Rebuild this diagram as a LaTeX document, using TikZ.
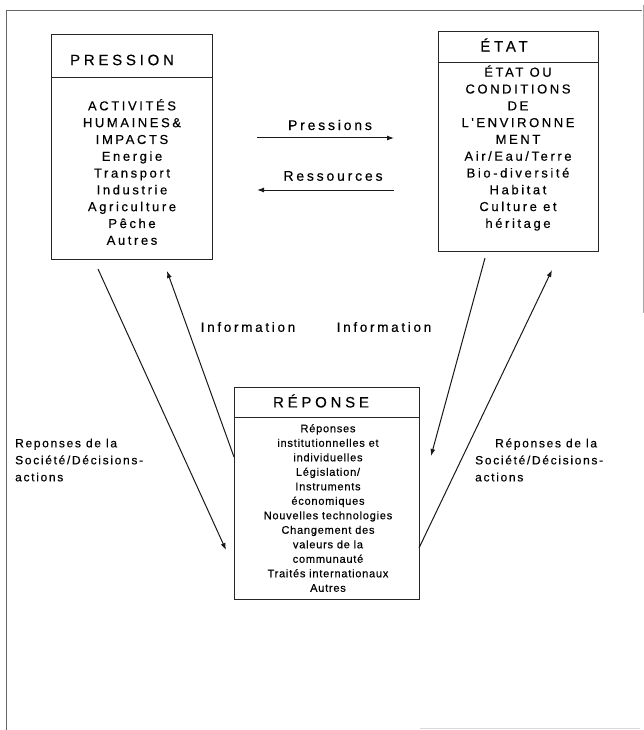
\documentclass[tikz,border=0pt]{standalone}
\usepackage{fontspec}
\setmainfont{Liberation Sans}
\newfontfamily\titlef{Liberation Sans}[LetterSpace=25,FakeBold=0.4]
\newfontfamily\bodyf{Liberation Sans}[LetterSpace=20,FakeBold=0.4]
\newfontfamily\repf{Liberation Sans}[LetterSpace=7,FakeBold=0.4]
\newfontfamily\labf{Liberation Sans}[LetterSpace=20,FakeBold=0.4]
\newfontfamily\sidef{Liberation Sans}[LetterSpace=14,FakeBold=0.4]
\usetikzlibrary{arrows.meta}
\tikzset{
  pagebord/.style={line width=0.8pt, draw=black!60},
  boxframe/.style={draw=black!85, line width=1.1pt, inner sep=0pt, anchor=north west},
  titletext/.style={font=\titlef\fontsize{15}{18}\selectfont, inner sep=0pt},
  bodytext/.style={font=\bodyf\fontsize{13}{16.8}\selectfont, align=center, inner sep=0pt},
  reptext/.style={font=\repf\fontsize{11}{14.5}\selectfont, align=center, inner sep=0pt},
  labtext/.style={font=\labf\fontsize{14}{17}\selectfont, inner sep=0pt},
  infotext/.style={font=\labf\fontsize{13.5}{17}\selectfont, inner sep=0pt},
  sidetext/.style={font=\sidef\fontsize{12}{17}\selectfont, align=left, inner sep=0pt, anchor=west},
  arr/.style={line width=1pt, draw=black!90, -{Latex[length=7pt,width=5pt]}}
}
\begin{document}
\begin{tikzpicture}[x=1pt,y=-1pt]
\useasboundingbox (0,0) rectangle (644,730);
% page border
\coordinate (b1) at (6,10);
\coordinate (b2) at (642,10);
\coordinate (b3) at (6,730);
\coordinate (b4) at (643,5);
\coordinate (b5) at (643,313);
\coordinate (b6) at (420,728);
\coordinate (b7) at (640,728);
\draw[pagebord] (b3) -- (b1) -- (b2);
\draw[pagebord, draw=black!35] (b4) -- (b5);
\draw[line width=0.6pt, draw=black!15] (b6) -- (b7);

% PRESSION box
\node[boxframe, minimum width=161pt, minimum height=43pt] (ptitle) at (51,34) {};
\node[boxframe, minimum width=161pt, minimum height=182pt] (pbody) at (51,77) {};
\node[titletext] (ptitletxt) at (122,60) {PRESSION};
\node[bodytext] (ptext) at (132,172) {ACTIVITÉS\\HUMAINES\&\\IMPACTS\\Energie\\Transport\\Industrie\\Agriculture\\Pêche\\Autres};

% ETAT box
\node[boxframe, minimum width=160pt, minimum height=31pt] (etitle) at (438,31) {};
\node[boxframe, minimum width=160pt, minimum height=189pt] (ebody) at (438,62) {};
\node[titletext] (etitletxt) at (504,45) {ÉTAT};
\node[bodytext] (etext) at (518,148) {ÉTAT OU\\CONDITIONS\\DE\\L'ENVIRONNE\\MENT\\Air/Eau/Terre\\Bio-diversité\\Habitat\\Culture et\\héritage};

% REPONSE box
\node[boxframe, minimum width=185pt, minimum height=30pt] (rtitle) at (234,387) {};
\node[boxframe, minimum width=185pt, minimum height=182pt] (rbody) at (234,417) {};
\node[titletext] (rtitletxt) at (321,401) {RÉPONSE};
\node[reptext] (rtext) at (328,508) {Réponses\\institutionnelles et\\individuelles\\Législation/\\Instruments\\économiques\\Nouvelles technologies\\Changement des\\valeurs de la\\communauté\\Traités internationaux\\Autres};

% horizontal arrows
\coordinate (h1a) at (257,138);
\coordinate (h1b) at (394,138);
\coordinate (h2a) at (394,190);
\coordinate (h2b) at (257,190);
\draw[arr] (h1a) -- (h1b);
\draw[arr] (h2a) -- (h2b);
\node[labtext] (lpress) at (330,125) {Pressions};
\node[labtext] (lress) at (333,176) {Ressources};

% diagonal arrows
\coordinate (d1a) at (98,269);
\coordinate (d1b) at (226,550);
\coordinate (d2a) at (234,457);
\coordinate (d2b) at (167,271);
\coordinate (d3a) at (485,258);
\coordinate (d3b) at (431,456);
\coordinate (d4a) at (419,548);
\coordinate (d4b) at (552,270);
\draw[arr] (d1a) -- (d1b);
\draw[arr] (d2a) -- (d2b);
\draw[arr] (d3a) -- (d3b);
\draw[arr] (d4a) -- (d4b);

\node[infotext] (info1) at (248,327) {Information};
\node[infotext] (info2) at (384,327) {Information};

\node[sidetext] (sideL) at (15,460) {Reponses de la\\Société/Décisions-\\actions};
\node[sidetext] (sideR) at (475,460) {\hspace*{20pt}Réponses de la\\Société/Décisions-\\actions};
\end{tikzpicture}
\end{document}
